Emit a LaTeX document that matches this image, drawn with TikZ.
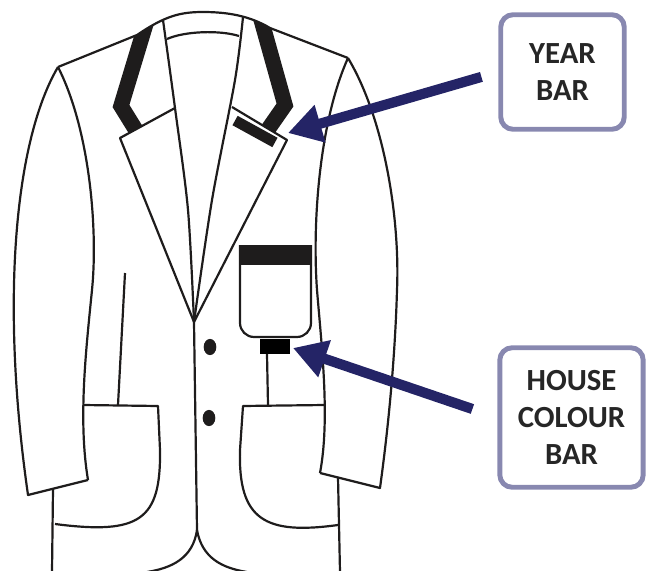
\documentclass[tikz,border=0pt]{standalone}
\usepackage{fontspec}
\setsansfont{Carlito}
\usetikzlibrary{arrows.meta}

\definecolor{ink}{RGB}{30,28,28}
\definecolor{navy}{RGB}{36,36,102}
\definecolor{boxline}{RGB}{136,136,176}
\definecolor{boxtext}{RGB}{38,38,38}

\tikzset{
  cloth/.style={draw=ink, line width=1.25pt, line join=round},
  band/.style={draw=ink, line width=8.8pt, line join=miter},
  pointer/.style={navy, line width=5.8pt, -{Triangle[length=19pt,width=21pt]}},
  tag/.style={draw=boxline, line width=2.8pt, rounded corners=7pt, align=center,
    text=boxtext, font=\sffamily\bfseries\fontsize{17.5}{21}\selectfont},
}

\begin{document}
\begin{tikzpicture}[x=0.02cm, y=-0.02cm]
    \useasboundingbox (0,0) rectangle (646,571);

    % collar bands, cut off at the neckline
    \begin{scope}
        \clip (58,67) -- (137,35) .. controls (165,16) and (180,12) .. (203,12)
            .. controls (228,12) and (250,16) .. (270,28) -- (348,58)
            -- (348,200) -- (58,200) -- cycle;
        \draw[band] (147,20) -- (121,106) -- (142,140);
        \draw[band] (259,12) -- (285,105) -- (262,138);
    \end{scope}

    % lapels cover the band ends
    \fill[white] (120,138) -- (175,108) -- (188,210) -- (194,322) -- cycle;
    \fill[white] (232,107) -- (287,140) -- (194,322) -- (212,200) -- cycle;
    \draw[cloth] (175,108) -- (120,138) -- (194,322);
    \draw[cloth] (232,107) -- (287,140) -- (194,322);

    % neckline and shoulders
    \draw[cloth] (58,67) -- (137,35) .. controls (165,16) and (180,12) .. (203,12)
        .. controls (228,12) and (250,16) .. (270,28) -- (348,58);
    \draw[cloth] (167,39) .. controls (185,31) and (220,30) .. (239,36);
    \draw[cloth] plot[smooth] coordinates {(163,20) (175,108) (188,210) (194,322)};
    \draw[cloth] plot[smooth] coordinates {(243,17) (235,80) (212,200) (194,322)};

    % front opening
    \draw[cloth] (194,322) -- (197,530);
    \draw[cloth] (197,530) .. controls (193,558) and (172,568) .. (147,572);
    \draw[cloth] (197,530) .. controls (202,558) and (222,568) .. (247,572);

    % left sleeve
    \draw[cloth] (58,67) .. controls (15,140) and (0,300) .. (28,495) -- (88,480);
    \draw[cloth] (58,67) .. controls (90,130) and (98,230) .. (92,290)
        .. controls (86,350) and (78,420) .. (88,480);

    % right sleeve
    \draw[cloth] (348,58) .. controls (385,120) and (400,220) .. (397,290)
        .. controls (395,360) and (388,430) .. (380,488) -- (320,473);
    \draw[cloth] (348,58) .. controls (320,120) and (312,220) .. (317,290)
        .. controls (322,350) and (330,420) .. (320,473);

    % side seams
    \draw[cloth] (125,273) -- (118,405);
    \draw[cloth] (53,489) -- (52,572);
    \draw[cloth] (338,477) -- (340,572);

    % lower pockets
    \draw[cloth] (83,405) -- (158,406) -- (160,450)
        .. controls (161,520) and (140,535) .. (55,524);
    \draw[cloth] (325,405) -- (243,406) -- (240,450)
        .. controls (238,520) and (265,535) .. (338,525);

    % breast pocket
    \draw[cloth, rounded corners=8pt] (240,245) -- (240,337) -- (311,337) -- (311,245);
    \fill[ink] (240,245) rectangle (311,265);

    % bars
    \node[fill=ink, inner sep=0pt, minimum width=25.9pt, minimum height=6.1pt,
        rotate=-28.8] (yearbar) at (255,131.5) {};
    \node[fill=black, inner sep=0pt, minimum width=17pt, minimum height=8.5pt]
        (housebar) at (275,346.5) {};
    \draw[cloth] (267,354) -- (268,405);

    % buttons
    \fill[ink] (210,347) ellipse [x radius=3.6pt, y radius=4.6pt];
    \fill[ink] (209,418) ellipse [x radius=3.6pt, y radius=4.6pt];

    % labels
    \node[tag, minimum width=70.3pt, minimum height=65.2pt] (yearbox) at (562.5,72) {YEAR\\BAR};
    \node[tag, minimum width=81.6pt, minimum height=79.4pt] (housebox) at (571.5,417.5) {HOUSE\\COLOUR\\BAR};

    \coordinate (yeartip) at (288,133);
    \coordinate (housetip) at (293,348);
    \draw[pointer, shorten <=10pt] (yearbox.west) -- (yeartip);
    \draw[pointer, shorten <=15pt] (housebox.west) -- (housetip);
\end{tikzpicture}
\end{document}
